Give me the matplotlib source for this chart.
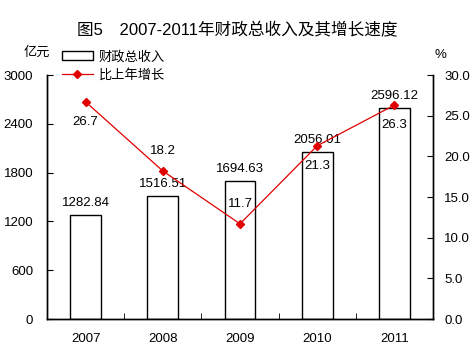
import matplotlib.pyplot as plt
import numpy as np
from matplotlib.ticker import FixedLocator

plt.rcParams["font.family"] = ["Liberation Sans", "Noto Sans CJK SC"]

years = ["2007", "2008", "2009", "2010", "2011"]
revenue = [1282.84, 1516.51, 1694.63, 2056.01, 2596.12]
growth = [26.7, 18.2, 11.7, 21.3, 26.3]
# where the growth label sits relative to its point: -1 below, 1 above
growth_label_side = [-1, 1, 1, -1, -1]

fig = plt.figure(figsize=(4.76, 3.57), dpi=100)
ax = fig.add_axes([47 / 476, 1 - 319 / 357, 386 / 476, 244 / 357])
ax2 = ax.twinx()

x = np.arange(len(years))
bars = ax.bar(x, revenue, width=0.4, color="white", edgecolor="black",
              linewidth=1.0, label="财政总收入", zorder=2)
for xi, v in zip(x, revenue):
    ax.text(xi, v + 70, f"{v:.2f}", ha="center", va="bottom", fontsize=9.5)

ax.set_xlim(-0.5, 4.5)
ax.set_ylim(0, 3000)
ax.set_yticks(np.arange(0, 3001, 600))
ax.set_xticks(x)
ax.set_xticklabels(years, fontsize=9.5)
ax.tick_params(axis="x", length=0, pad=10)
ax.xaxis.set_minor_locator(FixedLocator(x[:-1] + 0.5))
ax.tick_params(axis="x", which="minor", direction="in", length=4)
ax.tick_params(axis="y", direction="in", length=4, labelsize=9.5, pad=10)

ax2.plot(x, growth, color="#e00000", linewidth=0.9, marker="D",
         markersize=4, label="比上年增长", zorder=3)
for xi, g, s in zip(x, growth, growth_label_side):
    ax2.text(xi, g + s * 1.7, f"{g:.1f}", ha="center",
             va="bottom" if s > 0 else "top", fontsize=9.5)
ax2.set_ylim(0, 30)
ax2.set_yticks(np.arange(0, 30.1, 5))
ax2.set_yticklabels([f"{t:.1f}" for t in np.arange(0, 30.1, 5)])
ax2.tick_params(axis="y", direction="in", length=4, labelsize=9.5, pad=8)

for a in (ax, ax2):
    a.spines["top"].set_visible(False)
    for sp in a.spines.values():
        sp.set_linewidth(1.0)

fig.text(237 / 476, 1 - 30 / 357, "图5　2007-2011年财政总收入及其增长速度",
         ha="center", va="center", fontsize=12, fontweight="medium")
fig.text(37 / 476, 1 - 53 / 357, "亿元", ha="center", va="center", fontsize=9.5)
fig.text(440 / 476, 1 - 55 / 357, "%", ha="center", va="center", fontsize=9.5)

h1, l1 = ax.get_legend_handles_labels()
h2, l2 = ax2.get_legend_handles_labels()
fig.legend(h1 + h2, l1 + l2, loc="upper left",
           bbox_to_anchor=(55 / 476, 1 - 44 / 357), frameon=False,
           fontsize=9.5, handlelength=2.4, handleheight=0.7,
           borderpad=0, labelspacing=0.4, handletextpad=0.4)

fig.savefig("out.png", dpi=100)
